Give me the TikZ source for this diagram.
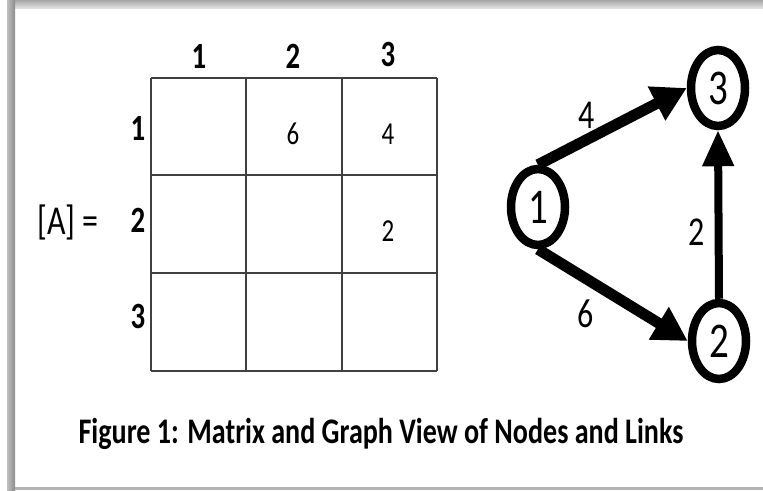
\documentclass[tikz,border=0pt]{standalone}
\usepackage{fontspec}
\setmainfont{Carlito}
\usetikzlibrary{arrows.meta,shapes.geometric}
\newcommand{\sqz}[1]{\scalebox{0.78}[1]{#1}}
\tikzset{
  gridline/.style={draw=black!75,line width=1.8pt},
  hdr/.style={anchor=base,font=\fontsize{37}{40}\selectfont\bfseries},
  val/.style={anchor=base,font=\fontsize{32}{36}\selectfont},
  vert/.style={draw,ellipse,line width=8.5pt,minimum width=54pt,minimum height=76pt,inner sep=0pt,font=\fontsize{50}{54}\selectfont},
  link/.style={line width=11pt,-{Triangle[length=34pt,width=36pt]}},
  wt/.style={anchor=base,font=\fontsize{41}{44}\selectfont},
}
\begin{document}
\begin{tikzpicture}[x=1pt,y=-1pt]
\useasboundingbox (0,0) rectangle (763,490);
% frame
\shade[top color=black!35,bottom color=black!12] (7,0) rectangle (763,8);
\shade[left color=black!25,right color=black!45] (7,0) rectangle (15,490);
\fill[black!30] (15,487) rectangle (763,490);
% matrix
\foreach \x in {151,246,342,437}
  \draw[gridline] (\x,78) -- (\x,371);
\foreach \y in {78,175,273,371}
  \draw[gridline] (151,\y) -- (437,\y);
\node[hdr] (c1) at (199,68) {\sqz{1}};
\node[hdr] (c2) at (293,68) {\sqz{2}};
\node[hdr] (c3) at (388,66) {\sqz{3}};
\node[hdr] (r1) at (138,140) {\sqz{1}};
\node[hdr] (r2) at (138,232) {\sqz{2}};
\node[hdr] (r3) at (138,328) {\sqz{3}};
\node[wt] (lhs) at (68,234) {\sqz{[A] =}};
\node[val] (a12) at (293,144) {\sqz{6}};
\node[val] (a13) at (388,144) {\sqz{4}};
\node[val] (a23) at (388,241) {\sqz{2}};
% graph
\node[vert] (n1) at (538,207) {\sqz{1}};
\node[vert] (n3) at (718,88) {\sqz{3}};
\node[vert] (n2) at (719,341) {\sqz{2}};
\draw[link] (n1.north) -- (n3.west);
\draw[link] (n1.south) -- (n2.west);
\draw[link,line width=8pt,-{Triangle[length=36pt,width=30pt]}] (n2.north) -- (n3.south);
\node[wt] (w13) at (587,128) {\sqz{4}};
\node[wt] (w12) at (586,327) {\sqz{6}};
\node[wt] (w23) at (697,245) {\sqz{2}};
% caption
\node[anchor=base,font=\fontsize{36}{40}\selectfont\bfseries] (cap) at (381,443)
  {\sqz{Figure 1: Matrix and Graph View of Nodes and Links}};
\end{tikzpicture}
\end{document}
